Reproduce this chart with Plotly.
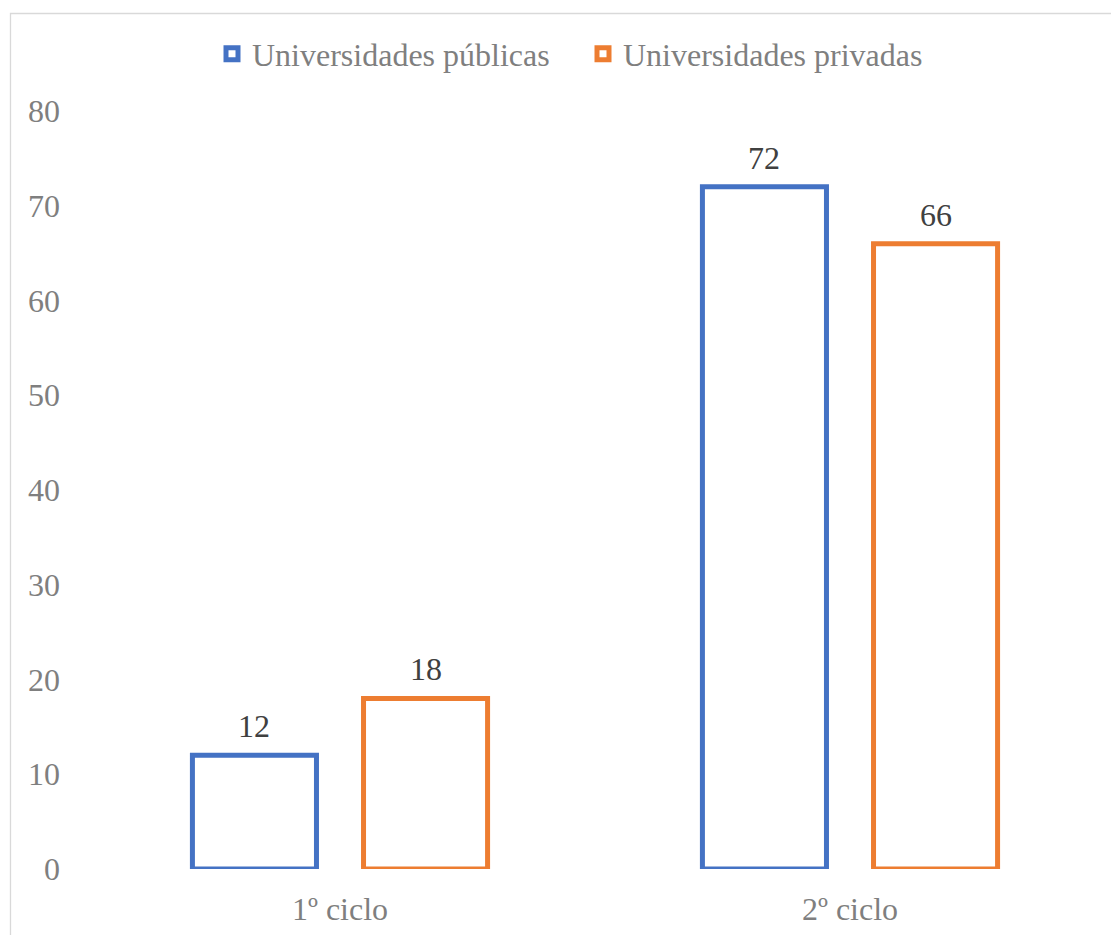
import plotly.graph_objects as go

categories = ["1º ciclo", "2º ciclo"]
publicas = [12, 72]
privadas = [18, 66]
series_names = ["Universidades públicas", "Universidades privadas"]
y_ticks = [0, 10, 20, 30, 40, 50, 60, 70, 80]

BLUE = "#4472C4"
ORANGE = "#ED7D31"
FONT = "Liberation Serif, Times New Roman, DejaVu Serif, serif"
GRAY = "#7f7f7f"
DARK = "#404040"
FS = 32

# the page body has an 8px margin, so the figure is drawn 8px in from the corner
OFF = 8
W, H = 1119 - OFF, 935 - OFF
ML, MT = 85 - OFF, 111 - OFF
PLOT_R, PLOT_B = 1105 - OFF, 869 - OFF
MR, MB = W - PLOT_R, H - PLOT_B
PW = W - ML - MR
PH = H - MT - MB

def px_to_paper_x(px):
    return (px - OFF - ML) / PW

def px_to_paper_y(py):
    return (H - MB - (py - OFF)) / PH

fig = go.Figure()
for name, vals, col in [(series_names[0], publicas, BLUE), (series_names[1], privadas, ORANGE)]:
    fig.add_trace(go.Bar(
        x=categories, y=vals, name=name,
        marker=dict(color="white", line=dict(color=col, width=5)),
        hoverinfo="skip",
    ))

# data labels above bars
for vals, shift in [(publicas, -86), (privadas, 86)]:
    for c, v in zip(categories, vals):
        fig.add_annotation(x=c, y=v, xref="x", yref="y", text=str(v), showarrow=False,
                           xshift=shift, yshift=29,
                           font=dict(family=FONT, size=FS, color=DARK))

# chart border (extends past right/bottom of the image)
fig.add_shape(type="rect", xref="paper", yref="paper",
              x0=px_to_paper_x(10.5), x1=px_to_paper_x(1140),
              y0=px_to_paper_y(950), y1=px_to_paper_y(13.5),
              line=dict(color="#d9d9d9", width=1.3), fillcolor="rgba(0,0,0,0)", layer="below")

fig.update_layout(
    width=W, height=H,
    margin=dict(l=ML, r=MR, t=MT, b=MB, autoexpand=False),
    paper_bgcolor="white", plot_bgcolor="white",
    barmode="group", bargap=0.329, bargroupgap=0.275,
    font=dict(family=FONT, size=FS, color=GRAY),
    showlegend=True,
    legend=dict(orientation="h", x=px_to_paper_x(212), xanchor="left",
                y=px_to_paper_y(54), yanchor="middle",
                font=dict(family=FONT, size=FS, color=GRAY),
                itemwidth=30, tracegroupgap=0, entrywidth=326, entrywidthmode="pixels",
                bgcolor="rgba(0,0,0,0)"),
    xaxis=dict(showgrid=False, showline=False, zeroline=False, ticks="", automargin=False,
               tickfont=dict(family=FONT, size=FS, color=GRAY), ticklabelstandoff=18),
    yaxis=dict(range=[0, 80], tickvals=y_ticks, showgrid=False, showline=False, zeroline=False,
               ticks="", automargin=False,
               tickfont=dict(family=FONT, size=FS, color=GRAY), ticklabelstandoff=24),
)

fig.write_html("out.html")
